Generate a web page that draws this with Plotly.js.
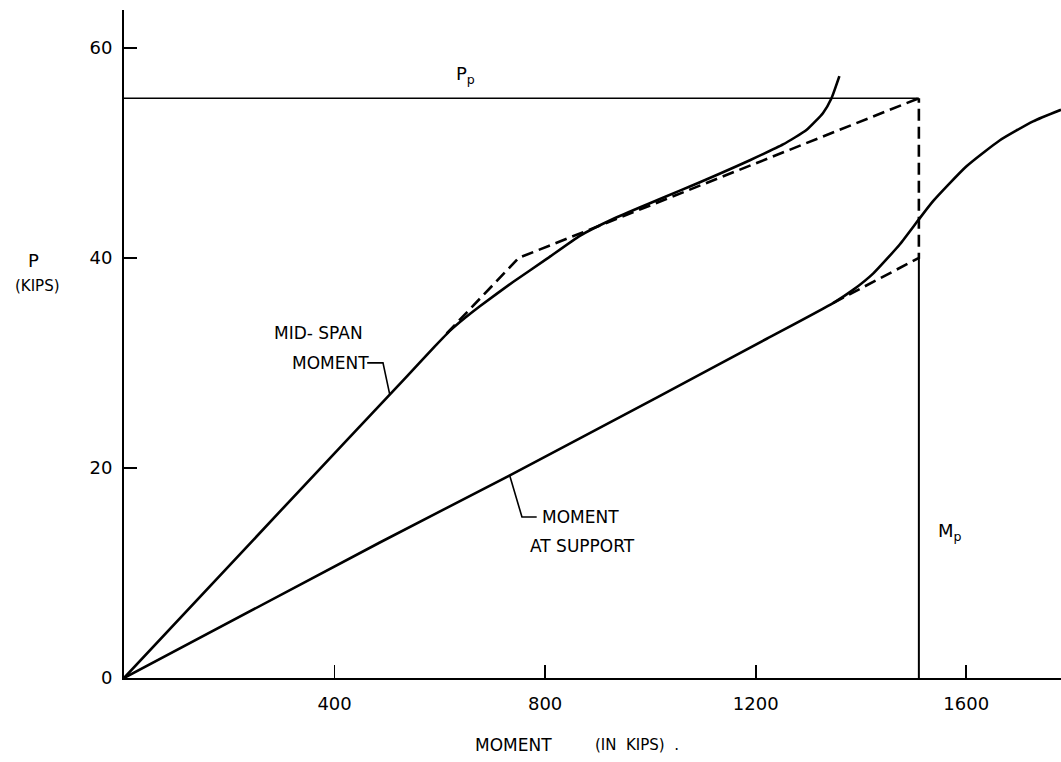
<!DOCTYPE html>
<html>
<head>
<meta charset="utf-8">
<script src="https://cdn.plot.ly/plotly-3.0.1.min.js"></script>
<style>html,body{margin:0;padding:0;background:#fff;}#chart{width:1061px;height:762px;}</style>
</head>
<body>
<div id="chart"></div>
<script>
// ---- data (moment in kip-in, P in kips) ----
const MP = 1510;   // plastic moment
const PP = 55.2;   // plastic load

const midspanMoment = [0, 300, 537, 590, 620, 648, 676, 739, 803, 866, 929, 999, 1056, 1094, 1140, 1189, 1252, 1297, 1328, 1344, 1359];
const midspanLoad   = [0, 16.05, 28.7, 31.55, 33.1, 34.3, 35.4, 37.7, 39.9, 42.1, 43.7, 45.2, 46.4, 47.2, 48.2, 49.3, 50.8, 52.2, 53.8, 55.2, 57.3];

const supportMoment = [0, 486, 733, 1012, 1221, 1347, 1385, 1423, 1474, 1509, 1537, 1600, 1664, 1727, 1780];
const supportLoad   = [0, 12.9, 19.3, 26.7, 32.3, 35.7, 36.95, 38.5, 41.3, 43.6, 45.4, 48.7, 51.2, 53.0, 54.1];

const midspanIdealMoment = [613, 750, MP];
const midspanIdealLoad   = [32.8, 40, PP];

const supportIdealMoment = [1347, MP, MP];
const supportIdealLoad   = [35.7, 40, PP];

const xTickVals = [400, 800, 1200, 1600];
const xTickText = ['400', '800', '1200', '1600'];
const yTickVals = [0, 20, 40, 60];
const yTickText = ['0', '20', '40', '60'];

const FONT = 'DejaVu Sans, sans-serif';
const black = '#000';

const traces = [
  {x: [0, MP], y: [PP, PP], mode: 'lines', line: {color: black, width: 1.4}, hoverinfo: 'skip'},
  {x: [MP, MP], y: [0, 40], mode: 'lines', line: {color: black, width: 2}, hoverinfo: 'skip'},
  {x: midspanMoment, y: midspanLoad, mode: 'lines', line: {color: black, width: 2.6, shape: 'spline', smoothing: 0.5}, name: 'Mid-span moment'},
  {x: supportMoment, y: supportLoad, mode: 'lines', line: {color: black, width: 2.6, shape: 'spline', smoothing: 0.5}, name: 'Moment at support'},
  {x: midspanIdealMoment, y: midspanIdealLoad, mode: 'lines', line: {color: black, width: 2.6, dash: '12px,6px'}, hoverinfo: 'skip'},
  {x: supportIdealMoment, y: supportIdealLoad, mode: 'lines', line: {color: black, width: 2.6, dash: '12px,6px'}, hoverinfo: 'skip'},
  // label leaders
  {x: [462, 492, 505], y: [30.0, 30.0, 26.95], mode: 'lines', line: {color: black, width: 1.6}, hoverinfo: 'skip'},
  {x: [733, 756, 784], y: [19.24, 15.33, 15.33], mode: 'lines', line: {color: black, width: 1.6}, hoverinfo: 'skip'}
];

const ann = (text, x, y, size, opts) => Object.assign({
  text: text, x: x, y: y, xref: 'x', yref: 'y', showarrow: false,
  font: {family: FONT, size: size, color: black}, xanchor: 'left', yanchor: 'middle'
}, opts || {});

const annotations = [
  ann('P<sub>p</sub>', 648, 57.4, 18, {xanchor: 'center'}),
  ann('M<sub>p</sub>', 1569, 13.9, 18, {xanchor: 'center'}),
  ann('MID- SPAN', 281, 32.86, 17),
  ann('MOMENT', 315, 30.0, 17),
  ann('MOMENT', 790, 15.33, 17),
  ann('AT SUPPORT', 767, 12.57, 17),
  ann('P', -0.0971, 0.6257, 18, {xref: 'paper', yref: 'paper', xanchor: 'center'}),
  ann('(KIPS)', -0.0918, 0.587, 15, {xref: 'paper', yref: 'paper', xanchor: 'center'}),
  ann('MOMENT', 0.4152, -0.1003, 17, {xref: 'paper', yref: 'paper', xanchor: 'center'}),
  ann('(IN&nbsp;&nbsp;KIPS)&nbsp;&nbsp;.', 0.5475, -0.1003, 15, {xref: 'paper', yref: 'paper', xanchor: 'center'})
];

const layout = {
  width: 1061, height: 762,
  margin: {l: 124, r: 0, t: 10, b: 84, pad: 0},
  paper_bgcolor: '#fff', plot_bgcolor: '#fff',
  showlegend: false,
  font: {family: FONT, color: black},
  xaxis: {
    range: [0, 1780], showgrid: false, zeroline: false,
    showline: true, linecolor: black, linewidth: 2,
    ticks: 'inside', ticklen: 13, tickwidth: 1.8, tickcolor: black,
    tickvals: xTickVals, ticktext: xTickText, ticklabelstandoff: 8,
    tickfont: {family: FONT, size: 18, color: black}
  },
  yaxis: {
    range: [0, 63.6], showgrid: false, zeroline: false,
    showline: true, linecolor: black, linewidth: 2,
    ticks: 'inside', ticklen: 13, tickwidth: 1.8, tickcolor: black,
    tickvals: yTickVals, ticktext: yTickText, ticklabelstandoff: 6,
    tickfont: {family: FONT, size: 18, color: black}
  },
  annotations: annotations
};

Plotly.newPlot('chart', traces, layout, {displayModeBar: false, staticPlot: true});
</script>
</body>
</html>
